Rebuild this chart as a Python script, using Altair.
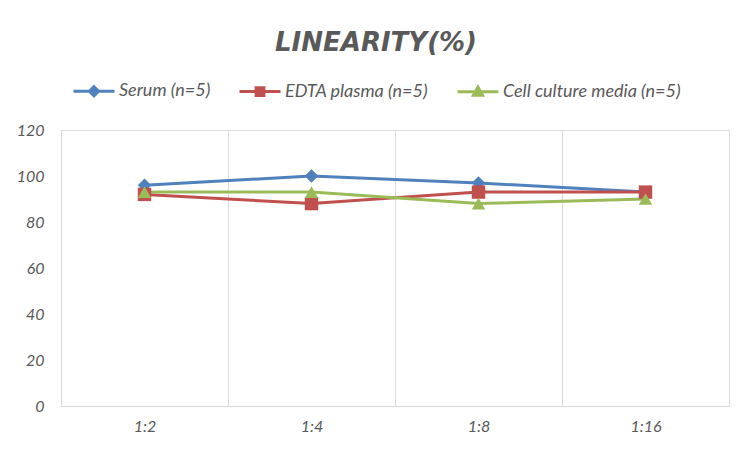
import altair as alt
import pandas as pd

dilutions = ["1:2", "1:4", "1:8", "1:16"]
series_names = ["Serum (n=5)", "EDTA plasma (n=5)", "Cell culture media (n=5)"]
serum = [96, 100, 97, 93]
edta = [92, 88, 93, 93]
cell = [93, 93, 88, 90]
colors = ["#4F81BD", "#C0504D", "#9BBB59"]
shapes = ["diamond", "square", "triangle-up"]
legend_paths = [
    "M-1,0H1M0,-0.22L0.22,0L0,0.22L-0.22,0Z",
    "M-1,0H1M-0.19,-0.19H0.19V0.19H-0.19Z",
    "M-1,0H1M0,-0.22L0.22,0.18H-0.22Z",
]

rows = []
for name, vals in zip(series_names, [serum, edta, cell]):
    for d, v in zip(dilutions, vals):
        rows.append({"dilution": d, "series": name, "value": v, "order": series_names.index(name)})
df = pd.DataFrame(rows)

FONT = "Lato"
GREY = "#595959"

x_enc = alt.X(
    "dilution:O",
    sort=dilutions,
    title=None,
    scale=alt.Scale(type="band", paddingInner=0, paddingOuter=0),
    axis=alt.Axis(
        tickBand="extent", grid=True, gridColor="#D9D9D9", gridWidth=1,
        ticks=False, domainColor="#D9D9D9", domainWidth=1,
        labelAngle=0, labelFont=FONT, labelFontStyle="italic", labelFontSize=16,
        labelColor=GREY, labelPadding=12,
    ),
)
y_enc = alt.Y(
    "value:Q",
    title=None,
    scale=alt.Scale(domain=[0, 120], nice=False),
    axis=alt.Axis(
        values=[0, 20, 40, 60, 80, 100, 120], grid=False, ticks=False, domain=False,
        labelFont=FONT, labelFontStyle="italic", labelFontSize=16, labelColor=GREY,
        labelPadding=17,
    ),
)
# plot colour scale listed in reverse so that its (disabled) legend does not merge with the legend below
color_scale = alt.Scale(domain=series_names[::-1], range=colors[::-1])

lines = alt.Chart(df).mark_line(strokeWidth=3).encode(
    x=x_enc,
    y=y_enc,
    color=alt.Color("series:N", scale=color_scale, legend=None),
    order="order:Q",
)

point_layers = []
for name, shp in zip(series_names, shapes):
    point_layers.append(
        alt.Chart(df).transform_filter(alt.datum.series == name)
        .mark_point(filled=True, opacity=1, size=180, shape=shp)
        .encode(
            x=x_enc,
            y=y_enc,
            color=alt.Color("series:N", scale=color_scale, legend=None),
        )
    )

leg = alt.Legend(
    title=None, orient="none", direction="horizontal",
    legendX=11, legendY=-61, padding=0,
    symbolSize=1681, symbolStrokeWidth=3,
    labelFont=FONT, labelFontStyle="italic", labelFontSize=18, labelLimit=400,
    labelColor=GREY, labelOffset=3, columnPadding=22,
)
ghost = (
    alt.Chart(df)
    .mark_point(filled=True, opacity=1, strokeWidth=3, size=0)
    .encode(
        x=x_enc,
        y=y_enc,
        fill=alt.Fill("series:N", scale=alt.Scale(domain=series_names, range=colors), legend=leg),
        stroke=alt.Stroke("series:N", scale=alt.Scale(domain=series_names, range=colors), legend=leg),
        shape=alt.Shape("series:N", scale=alt.Scale(domain=series_names, range=legend_paths), legend=leg),
    )
)

chart = alt.layer(lines, *point_layers, ghost).properties(
    width=668,
    height=276,
    padding={"left": 53, "top": 122, "right": 15, "bottom": 38},
    autosize=alt.AutoSizeParams(type="none"),
    title=alt.TitleParams(
        "LINEARITY(%)", font="DejaVu Sans", fontSize=26, fontWeight="bold", fontStyle="italic",
        color=GREY, anchor="middle", dx=-19, offset=-13, baseline="bottom",
    ),
).configure_view(stroke="transparent").configure(background="white")

chart.save("out.html", embed_options={"renderer": "svg", "actions": False})
